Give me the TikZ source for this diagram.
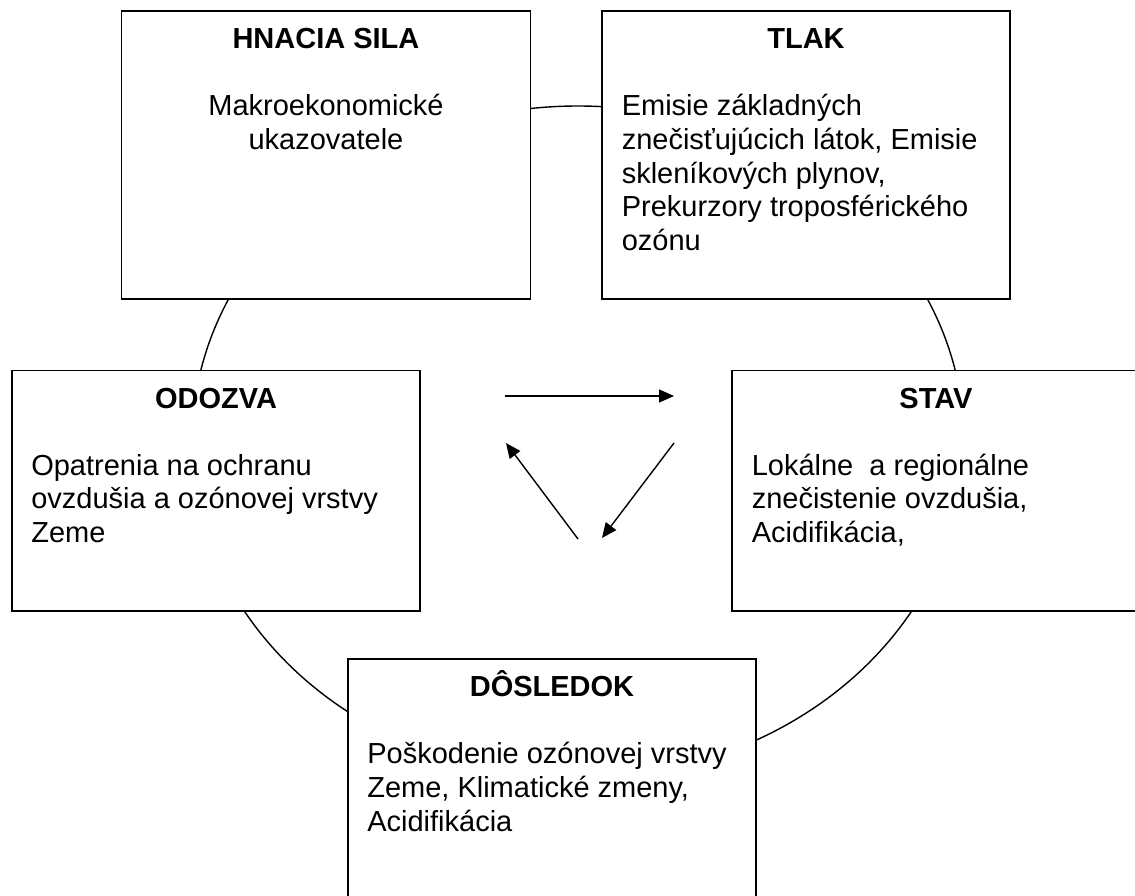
\documentclass[tikz,border=0pt]{standalone}
\usepackage{fontspec}
\setmainfont{Liberation Sans}
\usetikzlibrary{arrows.meta,positioning}

\begin{document}
\begin{tikzpicture}[x=1pt,y=-1pt,font=\fontsize{29}{33.7}\selectfont,
  box/.style={draw,line width=1.8pt,fill=white,inner sep=0pt},
  title/.style={anchor=base,inner sep=0pt,font=\fontsize{29}{33.7}\selectfont\bfseries},
  body/.style={anchor=base west,align=left,inner sep=0pt},
  ring/.style={line width=1.4pt},
  flow/.style={line width=1.4pt,-{Triangle[length=15pt,width=13pt]}}]
  \useasboundingbox (0,0) rectangle (1135,896);
  % ring behind the boxes
  \coordinate (mid) at (578,442);
  \draw[ring] (mid) ellipse [x radius=386pt,y radius=336pt];
  % boxes
  \node[box,minimum width=409pt,minimum height=288pt] (hnacia) at (326,155) {};
  \node[box,minimum width=408pt,minimum height=288pt] (tlak) at (806,155) {};
  \node[box,minimum width=408pt,minimum height=240.5pt] (odozva) at (216,490.75) {};
  \node[box,minimum width=408pt,minimum height=240.5pt] (stav) at (936,490.75) {};
  \node[box,minimum width=408pt,minimum height=242pt] (dosledok) at (552,780) {};
  % titles
  \node[title] (hnaciaT) at ([yshift=-38.5pt]hnacia.north) {HNACIA SILA};
  \node[title] (tlakT) at ([yshift=-38.5pt]tlak.north) {TLAK};
  \node[title] (odozvaT) at ([yshift=-38.5pt]odozva.north) {ODOZVA};
  \node[title] (stavT) at ([yshift=-38.5pt]stav.north) {STAV};
  \node[title] (dosledokT) at ([yshift=-38.5pt]dosledok.north) {DÔSLEDOK};
  % texts (base = baseline of the last line)
  \node[anchor=base,align=center,inner sep=0pt] (hnaciaB) at ([yshift=-139.2pt]hnacia.north) {Makroekonomické\\ukazovatele};
  \node[body] (tlakB) at ([xshift=20.5pt,yshift=-240.3pt]tlak.north west) {Emisie základných\\znečisťujúcich látok, Emisie\\skleníkových plynov,\\Prekurzory troposférického\\ozónu};
  \node[body] (odozvaB) at ([xshift=20pt,yshift=-172.9pt]odozva.north west) {Opatrenia na ochranu\\ovzdušia a ozónovej vrstvy\\Zeme};
  \node[body] (stavB) at ([xshift=20.5pt,yshift=-172.9pt]stav.north west) {Lokálne~ a regionálne\\znečistenie ovzdušia,\\Acidifikácia,};
  \node[body] (dosledokB) at ([xshift=20pt,yshift=-172.9pt]dosledok.north west) {Poškodenie ozónovej vrstvy\\Zeme, Klimatické zmeny,\\Acidifikácia};
  % arrows in the middle
  \coordinate (a1) at (505,396); \coordinate (a2) at (674,396);
  \coordinate (b1) at (674,443); \coordinate (b2) at (602,538);
  \coordinate (c1) at (578,539); \coordinate (c2) at (506,443);
  \draw[flow] (a1) -- (a2);
  \draw[flow] (b1) -- (b2);
  \draw[flow] (c1) -- (c2);
\end{tikzpicture}
\end{document}
